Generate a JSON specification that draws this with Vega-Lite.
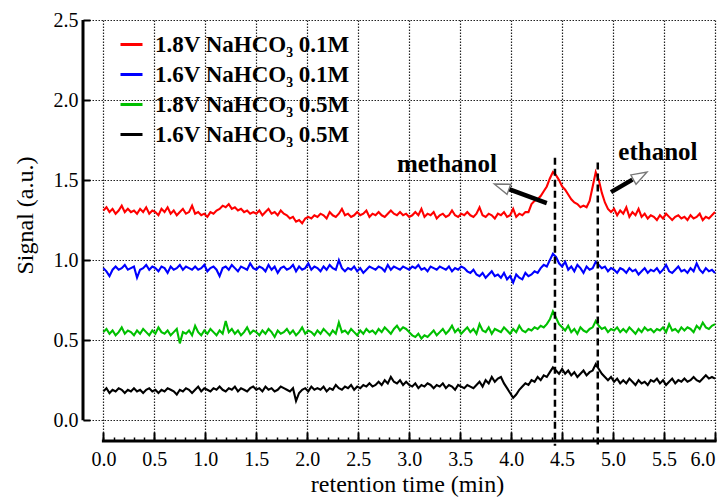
{
  "$schema": "https://vega.github.io/schema/vega-lite/v6.json",
  "autosize": {"type": "none"},
  "width": 632,
  "height": 421,
  "padding": {"left": 83, "top": 20, "right": 11, "bottom": 57},
  "background": "white",
  "config": {
    "view": {"stroke": null},
    "font": "Liberation Serif, Times New Roman, DejaVu Serif, serif"
  },
  "datasets": {
    "sig": [
      {"t":0,"a":1.31,"b":0.95,"c":0.55,"d":0.18},
      {"t":0.03,"a":1.33,"b":0.93,"c":0.57,"d":0.20},
      {"t":0.06,"a":1.30,"b":0.90,"c":0.54,"d":0.17},
      {"t":0.09,"a":1.32,"b":0.94,"c":0.56,"d":0.19},
      {"t":0.12,"a":1.29,"b":0.96,"c":0.53,"d":0.18},
      {"t":0.15,"a":1.31,"b":0.94,"c":0.55,"d":0.20},
      {"t":0.18,"a":1.34,"b":0.95,"c":0.58,"d":0.19},
      {"t":0.21,"a":1.30,"b":0.97,"c":0.54,"d":0.17},
      {"t":0.24,"a":1.32,"b":0.94,"c":0.56,"d":0.19},
      {"t":0.27,"a":1.30,"b":0.95,"c":0.55,"d":0.18},
      {"t":0.30,"a":1.31,"b":0.96,"c":0.53,"d":0.20},
      {"t":0.33,"a":1.29,"b":0.89,"c":0.56,"d":0.18},
      {"t":0.36,"a":1.32,"b":0.94,"c":0.54,"d":0.19},
      {"t":0.39,"a":1.30,"b":0.95,"c":0.57,"d":0.17},
      {"t":0.42,"a":1.33,"b":0.97,"c":0.55,"d":0.19},
      {"t":0.45,"a":1.29,"b":0.94,"c":0.53,"d":0.20},
      {"t":0.48,"a":1.31,"b":0.96,"c":0.56,"d":0.18},
      {"t":0.51,"a":1.30,"b":0.95,"c":0.54,"d":0.19},
      {"t":0.54,"a":1.28,"b":0.93,"c":0.58,"d":0.17},
      {"t":0.57,"a":1.32,"b":0.96,"c":0.55,"d":0.19},
      {"t":0.60,"a":1.30,"b":0.95,"c":0.54,"d":0.18},
      {"t":0.63,"a":1.33,"b":0.92,"c":0.56,"d":0.20},
      {"t":0.66,"a":1.29,"b":0.96,"c":0.53,"d":0.19},
      {"t":0.69,"a":1.31,"b":0.94,"c":0.55,"d":0.18},
      {"t":0.72,"a":1.28,"b":0.95,"c":0.57,"d":0.16},
      {"t":0.75,"a":1.30,"b":0.97,"c":0.48,"d":0.19},
      {"t":0.78,"a":1.32,"b":0.94,"c":0.55,"d":0.18},
      {"t":0.81,"a":1.29,"b":0.96,"c":0.54,"d":0.20},
      {"t":0.84,"a":1.30,"b":0.95,"c":0.56,"d":0.19},
      {"t":0.87,"a":1.34,"b":0.94,"c":0.53,"d":0.17},
      {"t":0.90,"a":1.29,"b":0.96,"c":0.59,"d":0.19},
      {"t":0.93,"a":1.30,"b":0.94,"c":0.55,"d":0.21},
      {"t":0.96,"a":1.28,"b":0.95,"c":0.53,"d":0.18},
      {"t":0.99,"a":1.29,"b":0.97,"c":0.56,"d":0.20},
      {"t":1.02,"a":1.27,"b":0.93,"c":0.54,"d":0.19},
      {"t":1.05,"a":1.30,"b":0.95,"c":0.57,"d":0.18},
      {"t":1.08,"a":1.29,"b":0.96,"c":0.55,"d":0.20},
      {"t":1.11,"a":1.31,"b":0.94,"c":0.53,"d":0.19},
      {"t":1.14,"a":1.32,"b":0.90,"c":0.56,"d":0.21},
      {"t":1.17,"a":1.34,"b":0.95,"c":0.54,"d":0.19},
      {"t":1.20,"a":1.33,"b":0.96,"c":0.62,"d":0.18},
      {"t":1.23,"a":1.35,"b":0.94,"c":0.55,"d":0.20},
      {"t":1.26,"a":1.32,"b":0.97,"c":0.57,"d":0.19},
      {"t":1.29,"a":1.33,"b":0.95,"c":0.54,"d":0.21},
      {"t":1.32,"a":1.31,"b":0.93,"c":0.56,"d":0.18},
      {"t":1.35,"a":1.32,"b":0.96,"c":0.53,"d":0.20},
      {"t":1.38,"a":1.30,"b":0.95,"c":0.55,"d":0.19},
      {"t":1.41,"a":1.31,"b":0.94,"c":0.58,"d":0.18},
      {"t":1.44,"a":1.29,"b":0.98,"c":0.54,"d":0.20},
      {"t":1.47,"a":1.30,"b":0.95,"c":0.56,"d":0.21},
      {"t":1.50,"a":1.29,"b":0.94,"c":0.55,"d":0.19},
      {"t":1.53,"a":1.31,"b":0.96,"c":0.53,"d":0.20},
      {"t":1.56,"a":1.28,"b":0.95,"c":0.56,"d":0.18},
      {"t":1.59,"a":1.30,"b":0.93,"c":0.54,"d":0.21},
      {"t":1.62,"a":1.32,"b":0.97,"c":0.57,"d":0.19},
      {"t":1.65,"a":1.29,"b":0.94,"c":0.55,"d":0.20},
      {"t":1.68,"a":1.30,"b":0.96,"c":0.52,"d":0.18},
      {"t":1.71,"a":1.28,"b":0.92,"c":0.56,"d":0.19},
      {"t":1.74,"a":1.31,"b":0.95,"c":0.54,"d":0.21},
      {"t":1.77,"a":1.29,"b":0.96,"c":0.55,"d":0.20},
      {"t":1.80,"a":1.28,"b":0.94,"c":0.57,"d":0.19},
      {"t":1.83,"a":1.26,"b":0.95,"c":0.54,"d":0.18},
      {"t":1.86,"a":1.27,"b":0.97,"c":0.56,"d":0.20},
      {"t":1.89,"a":1.24,"b":0.93,"c":0.53,"d":0.12},
      {"t":1.92,"a":1.25,"b":0.96,"c":0.55,"d":0.17},
      {"t":1.95,"a":1.23,"b":0.94,"c":0.58,"d":0.19},
      {"t":1.98,"a":1.26,"b":0.95,"c":0.54,"d":0.20},
      {"t":2.01,"a":1.27,"b":0.98,"c":0.56,"d":0.18},
      {"t":2.04,"a":1.26,"b":0.94,"c":0.55,"d":0.21},
      {"t":2.07,"a":1.28,"b":0.96,"c":0.53,"d":0.19},
      {"t":2.10,"a":1.27,"b":0.95,"c":0.56,"d":0.20},
      {"t":2.13,"a":1.29,"b":0.93,"c":0.54,"d":0.19},
      {"t":2.16,"a":1.28,"b":0.96,"c":0.57,"d":0.21},
      {"t":2.19,"a":1.26,"b":0.94,"c":0.55,"d":0.18},
      {"t":2.22,"a":1.30,"b":0.97,"c":0.53,"d":0.20},
      {"t":2.25,"a":1.28,"b":0.95,"c":0.56,"d":0.19},
      {"t":2.28,"a":1.27,"b":0.94,"c":0.54,"d":0.22},
      {"t":2.31,"a":1.29,"b":1.00,"c":0.61,"d":0.20},
      {"t":2.34,"a":1.32,"b":0.95,"c":0.55,"d":0.19},
      {"t":2.37,"a":1.28,"b":0.93,"c":0.56,"d":0.21},
      {"t":2.40,"a":1.29,"b":0.95,"c":0.54,"d":0.20},
      {"t":2.43,"a":1.27,"b":0.94,"c":0.57,"d":0.22},
      {"t":2.46,"a":1.28,"b":0.96,"c":0.55,"d":0.19},
      {"t":2.49,"a":1.30,"b":0.93,"c":0.53,"d":0.21},
      {"t":2.52,"a":1.28,"b":0.95,"c":0.56,"d":0.20},
      {"t":2.55,"a":1.29,"b":0.92,"c":0.54,"d":0.22},
      {"t":2.58,"a":1.31,"b":0.94,"c":0.57,"d":0.21},
      {"t":2.61,"a":1.27,"b":0.96,"c":0.55,"d":0.23},
      {"t":2.64,"a":1.29,"b":0.95,"c":0.56,"d":0.21},
      {"t":2.67,"a":1.28,"b":0.94,"c":0.54,"d":0.22},
      {"t":2.70,"a":1.30,"b":0.96,"c":0.57,"d":0.24},
      {"t":2.73,"a":1.28,"b":0.95,"c":0.55,"d":0.22},
      {"t":2.76,"a":1.27,"b":0.93,"c":0.58,"d":0.25},
      {"t":2.79,"a":1.29,"b":0.97,"c":0.56,"d":0.23},
      {"t":2.82,"a":1.31,"b":0.94,"c":0.54,"d":0.27},
      {"t":2.85,"a":1.29,"b":0.96,"c":0.57,"d":0.24},
      {"t":2.88,"a":1.28,"b":0.95,"c":0.59,"d":0.23},
      {"t":2.91,"a":1.30,"b":0.94,"c":0.56,"d":0.25},
      {"t":2.94,"a":1.28,"b":0.96,"c":0.58,"d":0.22},
      {"t":2.97,"a":1.29,"b":0.95,"c":0.57,"d":0.24},
      {"t":3.00,"a":1.27,"b":0.94,"c":0.55,"d":0.22},
      {"t":3.03,"a":1.28,"b":0.96,"c":0.53,"d":0.21},
      {"t":3.06,"a":1.30,"b":0.95,"c":0.52,"d":0.23},
      {"t":3.09,"a":1.28,"b":0.97,"c":0.54,"d":0.20},
      {"t":3.12,"a":1.32,"b":0.94,"c":0.51,"d":0.22},
      {"t":3.15,"a":1.27,"b":0.95,"c":0.53,"d":0.21},
      {"t":3.18,"a":1.29,"b":0.93,"c":0.52,"d":0.23},
      {"t":3.21,"a":1.28,"b":0.96,"c":0.54,"d":0.22},
      {"t":3.24,"a":1.30,"b":0.95,"c":0.56,"d":0.20},
      {"t":3.27,"a":1.26,"b":0.94,"c":0.53,"d":0.22},
      {"t":3.30,"a":1.28,"b":0.96,"c":0.55,"d":0.21},
      {"t":3.33,"a":1.29,"b":0.95,"c":0.57,"d":0.23},
      {"t":3.36,"a":1.27,"b":0.94,"c":0.54,"d":0.20},
      {"t":3.39,"a":1.28,"b":0.96,"c":0.56,"d":0.22},
      {"t":3.42,"a":1.31,"b":0.93,"c":0.59,"d":0.21},
      {"t":3.45,"a":1.28,"b":0.95,"c":0.55,"d":0.19},
      {"t":3.48,"a":1.27,"b":0.94,"c":0.57,"d":0.22},
      {"t":3.51,"a":1.29,"b":0.96,"c":0.54,"d":0.21},
      {"t":3.54,"a":1.28,"b":0.95,"c":0.56,"d":0.20},
      {"t":3.57,"a":1.30,"b":0.93,"c":0.58,"d":0.22},
      {"t":3.60,"a":1.28,"b":0.92,"c":0.55,"d":0.21},
      {"t":3.63,"a":1.27,"b":0.94,"c":0.57,"d":0.20},
      {"t":3.66,"a":1.29,"b":0.91,"c":0.54,"d":0.22},
      {"t":3.69,"a":1.33,"b":0.90,"c":0.60,"d":0.24},
      {"t":3.72,"a":1.28,"b":0.92,"c":0.56,"d":0.21},
      {"t":3.75,"a":1.27,"b":0.89,"c":0.55,"d":0.25},
      {"t":3.78,"a":1.29,"b":0.91,"c":0.58,"d":0.23},
      {"t":3.81,"a":1.28,"b":0.93,"c":0.54,"d":0.27},
      {"t":3.84,"a":1.26,"b":0.90,"c":0.57,"d":0.24},
      {"t":3.87,"a":1.29,"b":0.91,"c":0.56,"d":0.26},
      {"t":3.90,"a":1.28,"b":0.89,"c":0.55,"d":0.27},
      {"t":3.93,"a":1.30,"b":0.92,"c":0.58,"d":0.23},
      {"t":3.96,"a":1.27,"b":0.88,"c":0.56,"d":0.20},
      {"t":3.99,"a":1.28,"b":0.90,"c":0.54,"d":0.17},
      {"t":4.02,"a":1.32,"b":0.86,"c":0.57,"d":0.14},
      {"t":4.05,"a":1.27,"b":0.91,"c":0.55,"d":0.16},
      {"t":4.08,"a":1.29,"b":0.89,"c":0.59,"d":0.19},
      {"t":4.11,"a":1.28,"b":0.88,"c":0.56,"d":0.21},
      {"t":4.14,"a":1.30,"b":0.92,"c":0.55,"d":0.23},
      {"t":4.17,"a":1.30,"b":0.90,"c":0.57,"d":0.22},
      {"t":4.20,"a":1.35,"b":0.91,"c":0.56,"d":0.25},
      {"t":4.23,"a":1.37,"b":0.93,"c":0.58,"d":0.24},
      {"t":4.26,"a":1.38,"b":0.92,"c":0.57,"d":0.27},
      {"t":4.29,"a":1.40,"b":0.95,"c":0.59,"d":0.25},
      {"t":4.32,"a":1.43,"b":0.97,"c":0.58,"d":0.28},
      {"t":4.35,"a":1.46,"b":0.96,"c":0.60,"d":0.27},
      {"t":4.38,"a":1.51,"b":1.00,"c":0.63,"d":0.30},
      {"t":4.41,"a":1.55,"b":1.04,"c":0.68,"d":0.33},
      {"t":4.44,"a":1.53,"b":1.02,"c":0.64,"d":0.31},
      {"t":4.47,"a":1.50,"b":0.98,"c":0.60,"d":0.29},
      {"t":4.50,"a":1.46,"b":0.96,"c":0.58,"d":0.32},
      {"t":4.53,"a":1.44,"b":0.99,"c":0.56,"d":0.29},
      {"t":4.56,"a":1.41,"b":0.94,"c":0.59,"d":0.31},
      {"t":4.59,"a":1.38,"b":0.96,"c":0.55,"d":0.28},
      {"t":4.62,"a":1.36,"b":0.93,"c":0.57,"d":0.30},
      {"t":4.65,"a":1.35,"b":0.97,"c":0.54,"d":0.27},
      {"t":4.68,"a":1.33,"b":0.95,"c":0.58,"d":0.29},
      {"t":4.71,"a":1.34,"b":0.92,"c":0.56,"d":0.31},
      {"t":4.74,"a":1.33,"b":0.96,"c":0.55,"d":0.28},
      {"t":4.77,"a":1.37,"b":0.94,"c":0.57,"d":0.30},
      {"t":4.80,"a":1.46,"b":0.95,"c":0.58,"d":0.31},
      {"t":4.83,"a":1.55,"b":0.99,"c":0.62,"d":0.35},
      {"t":4.86,"a":1.50,"b":0.97,"c":0.59,"d":0.32},
      {"t":4.89,"a":1.42,"b":0.95,"c":0.57,"d":0.29},
      {"t":4.92,"a":1.36,"b":0.96,"c":0.58,"d":0.27},
      {"t":4.95,"a":1.32,"b":0.93,"c":0.55,"d":0.25},
      {"t":4.98,"a":1.30,"b":0.95,"c":0.57,"d":0.27},
      {"t":5.01,"a":1.32,"b":0.94,"c":0.56,"d":0.24},
      {"t":5.04,"a":1.28,"b":0.92,"c":0.58,"d":0.26},
      {"t":5.07,"a":1.31,"b":0.95,"c":0.55,"d":0.23},
      {"t":5.10,"a":1.29,"b":0.94,"c":0.57,"d":0.25},
      {"t":5.13,"a":1.33,"b":0.92,"c":0.55,"d":0.23},
      {"t":5.16,"a":1.27,"b":0.95,"c":0.58,"d":0.26},
      {"t":5.19,"a":1.30,"b":0.93,"c":0.56,"d":0.24},
      {"t":5.22,"a":1.28,"b":0.94,"c":0.54,"d":0.22},
      {"t":5.25,"a":1.32,"b":0.91,"c":0.57,"d":0.25},
      {"t":5.28,"a":1.27,"b":0.93,"c":0.55,"d":0.23},
      {"t":5.31,"a":1.29,"b":0.95,"c":0.58,"d":0.24},
      {"t":5.34,"a":1.26,"b":0.92,"c":0.56,"d":0.22},
      {"t":5.37,"a":1.28,"b":0.94,"c":0.57,"d":0.25},
      {"t":5.40,"a":1.27,"b":0.93,"c":0.55,"d":0.24},
      {"t":5.43,"a":1.25,"b":0.95,"c":0.57,"d":0.26},
      {"t":5.46,"a":1.28,"b":0.92,"c":0.56,"d":0.23},
      {"t":5.49,"a":1.26,"b":0.94,"c":0.58,"d":0.25},
      {"t":5.52,"a":1.29,"b":0.97,"c":0.55,"d":0.22},
      {"t":5.55,"a":1.27,"b":0.93,"c":0.60,"d":0.24},
      {"t":5.58,"a":1.25,"b":0.92,"c":0.56,"d":0.26},
      {"t":5.61,"a":1.27,"b":0.94,"c":0.57,"d":0.23},
      {"t":5.64,"a":1.28,"b":0.96,"c":0.55,"d":0.25},
      {"t":5.67,"a":1.26,"b":0.93,"c":0.58,"d":0.24},
      {"t":5.70,"a":1.27,"b":0.94,"c":0.56,"d":0.26},
      {"t":5.73,"a":1.25,"b":0.92,"c":0.58,"d":0.24},
      {"t":5.76,"a":1.28,"b":0.95,"c":0.57,"d":0.25},
      {"t":5.79,"a":1.26,"b":0.93,"c":0.55,"d":0.27},
      {"t":5.82,"a":1.27,"b":0.98,"c":0.59,"d":0.25},
      {"t":5.85,"a":1.29,"b":0.94,"c":0.57,"d":0.24},
      {"t":5.88,"a":1.25,"b":0.92,"c":0.61,"d":0.26},
      {"t":5.91,"a":1.27,"b":0.95,"c":0.58,"d":0.28},
      {"t":5.94,"a":1.26,"b":0.93,"c":0.57,"d":0.26},
      {"t":5.97,"a":1.28,"b":0.94,"c":0.59,"d":0.27},
      {"t":6.00,"a":1.30,"b":0.92,"c":0.60,"d":0.26}
    ],
    "peaks": [
      {"t": 4.43, "top": 1.64, "bottom": -0.16},
      {"t": 4.85, "top": 1.61, "bottom": -0.16}
    ],
    "arrows": [
      {"x": 4.35, "y": 1.356, "x2": 3.965, "y2": 1.446},
      {"x": 4.98, "y": 1.425, "x2": 5.19, "y2": 1.503}
    ],
    "labels": [
      {"x": 3.37, "y": 1.55, "name": "methanol"},
      {"x": 5.44, "y": 1.625, "name": "ethanol"}
    ]
  },
  "resolve": {"axis": {"x": "independent", "y": "independent"}},
  "layer": [
    {
      "data": {"name": "sig"},
      "transform": [{"fold": ["a", "b", "c", "d"], "as": ["key", "val"]}],
      "mark": {"type": "line", "strokeWidth": 2.1, "strokeJoin": "miter"},
      "encoding": {
        "x": {
          "field": "t", "type": "quantitative",
          "scale": {"domain": [-0.2, 6], "nice": false, "zero": false},
          "axis": {
            "orient": "bottom",
            "values": [0, 0.5, 1, 1.5, 2, 2.5, 3, 3.5, 4, 4.5, 5, 5.5, 6],
            "format": ".1f",
            "domain": false,
            "tickSize": -9, "tickWidth": 2, "tickColor": "black",
            "labelPadding": 17,
            "labelFont": "Liberation Serif, Times New Roman, DejaVu Serif, serif", "labelFontSize": 20, "labelColor": "black",
            "grid": true, "gridColor": "#222", "gridDash": [1.5, 1.5], "gridWidth": 1.2,
            "title": "retention time (min)",
            "titleFont": "Liberation Serif, Times New Roman, DejaVu Serif, serif", "titleFontSize": 24, "titleFontWeight": "normal", "titleColor": "black",
            "titleX": 324, "titleY": 43, "titleBaseline": "middle"
          }
        },
        "y": {
          "field": "val", "type": "quantitative",
          "scale": {"domain": [-0.13, 2.5], "nice": false, "zero": false},
          "axis": {
            "orient": "left",
            "values": [0, 0.5, 1, 1.5, 2, 2.5],
            "format": ".1f",
            "domain": false,
            "tickSize": -7, "tickWidth": 2, "tickColor": "black",
            "labelPadding": 12,
            "labelFont": "Liberation Serif, Times New Roman, DejaVu Serif, serif", "labelFontSize": 20, "labelColor": "black",
            "grid": true, "gridColor": "#222", "gridDash": [1.5, 1.5], "gridWidth": 1.2,
            "title": "Signal (a.u.)",
            "titleFont": "Liberation Serif, Times New Roman, DejaVu Serif, serif", "titleFontSize": 24, "titleFontWeight": "normal", "titleColor": "black",
            "titleX": -58, "titleY": 195, "titleBaseline": "middle"
          }
        },
        "color": {
          "field": "key", "type": "nominal",
          "scale": {"domain": ["a", "b", "c", "d"], "range": ["#ff0000", "#0000ff", "#00c000", "#000000"]},
          "legend": {
            "orient": "none", "legendX": 36, "legendY": 12, "padding": 0,
            "title": null,
            "symbolType": "stroke", "symbolSize": 484, "symbolStrokeWidth": 3,
            "labelFont": "Liberation Serif, Times New Roman, DejaVu Serif, serif", "labelFontSize": 23, "labelFontWeight": "bold", "labelColor": "black",
            "labelOffset": 11, "rowPadding": 5, "labelLimit": 400,
            "labelExpr": "{'a': '1.8V NaHCO₃ 0.1M', 'b': '1.6V NaHCO₃ 0.1M', 'c': '1.8V NaHCO₃ 0.5M', 'd': '1.6V NaHCO₃ 0.5M'}[datum.label]"
          }
        }
      }
    },
    {
      "data": {"values": [{"x": 0, "x2": 6, "y": -0.13}]},
      "mark": {"type": "rule", "strokeWidth": 3, "color": "black", "strokeCap": "square"},
      "encoding": {
        "x": {
          "field": "x", "type": "quantitative",
          "axis": {
            "orient": "bottom",
            "values": [0,0.1,0.2,0.3,0.4,0.5,0.6,0.7,0.8,0.9,1,1.1,1.2,1.3,1.4,1.5,1.6,1.7,1.8,1.9,2,2.1,2.2,2.3,2.4,2.5,2.6,2.7,2.8,2.9,3,3.1,3.2,3.3,3.4,3.5,3.6,3.7,3.8,3.9,4,4.1,4.2,4.3,4.4,4.5,4.6,4.7,4.8,4.9,5,5.1,5.2,5.3,5.4,5.5,5.6,5.7,5.8,5.9,6],
            "labels": false, "domain": false, "grid": false,
            "tickSize": -4, "tickWidth": 1.5, "tickColor": "black",
            "title": null
          }
        },
        "x2": {"field": "x2"},
        "y": {"field": "y", "type": "quantitative", "axis": null}
      }
    },
    {
      "data": {"values": [{"x": -0.2, "y": 0, "y2": 2.5}]},
      "mark": {"type": "rule", "strokeWidth": 3, "color": "black"},
      "encoding": {
        "x": {"field": "x", "type": "quantitative", "axis": null},
        "y": {"field": "y", "type": "quantitative", "axis": null},
        "y2": {"field": "y2"}
      }
    },
    {
      "data": {"name": "peaks"},
      "mark": {"type": "rule", "strokeWidth": 2.5, "color": "black", "strokeDash": [7, 4]},
      "encoding": {
        "x": {"field": "t", "type": "quantitative", "axis": null},
        "y": {"field": "top", "type": "quantitative", "axis": null},
        "y2": {"field": "bottom"}
      }
    },
    {
      "data": {"name": "arrows"},
      "mark": {"type": "rule", "strokeWidth": 4.5, "color": "black"},
      "encoding": {
        "x": {"field": "x", "type": "quantitative", "axis": null},
        "y": {"field": "y", "type": "quantitative", "axis": null},
        "x2": {"field": "x2"},
        "y2": {"field": "y2"}
      }
    },
    {
      "data": {"values": [{"x": 3.914, "y": 1.457}]},
      "mark": {"type": "point", "shape": "M0,-1L0.62,0.8L-0.62,0.8Z", "size": 300, "angle": 290, "filled": true, "fill": "white", "stroke": "#777", "strokeWidth": 1.3, "opacity": 1},
      "encoding": {
        "x": {"field": "x", "type": "quantitative", "axis": null},
        "y": {"field": "y", "type": "quantitative", "axis": null}
      }
    },
    {
      "data": {"values": [{"x": 5.259, "y": 1.524}]},
      "mark": {"type": "point", "shape": "M0,-1L0.62,0.8L-0.62,0.8Z", "size": 300, "angle": 61, "filled": true, "fill": "white", "stroke": "#777", "strokeWidth": 1.3, "opacity": 1},
      "encoding": {
        "x": {"field": "x", "type": "quantitative", "axis": null},
        "y": {"field": "y", "type": "quantitative", "axis": null}
      }
    },
    {
      "data": {"name": "labels"},
      "mark": {"type": "text", "font": "Liberation Serif, Times New Roman, DejaVu Serif, serif", "fontSize": 25, "fontWeight": "bold", "color": "black", "align": "center", "baseline": "alphabetic"},
      "encoding": {
        "x": {"field": "x", "type": "quantitative", "axis": null},
        "y": {"field": "y", "type": "quantitative", "axis": null},
        "text": {"field": "name"}
      }
    }
  ]
}
